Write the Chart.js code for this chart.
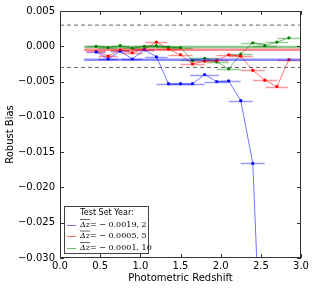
<!DOCTYPE html>
<html>
<head>
<meta charset="utf-8">
<script src="https://cdn.jsdelivr.net/npm/chart.js@4"></script>
<style>
html, body { margin: 0; padding: 0; background: #fff; }
#wrap { width: 314px; height: 290px; }
</style>
</head>
<body>
<div id="wrap"><canvas id="chart" width="314" height="290"></canvas></div>
<script>
// photometric redshift bin centres
const zBins = [0.45, 0.6, 0.75, 0.9, 1.05, 1.2, 1.35, 1.5, 1.65, 1.8, 1.95, 2.1, 2.25, 2.4, 2.55, 2.7, 2.85];
const zErr = [0.12, 0.12, 0.12, 0.13, 0.13, 0.14, 0.15, 0.15, 0.15, 0.18, 0.15, 0.15, 0.15, 0.15, 0.15, 0.14, 0.14];

// robust bias per test set year
const biasYear2 = [-0.0008, -0.0018, -0.0007, -0.0018, -0.0005, -0.0015, -0.0053, -0.0053, -0.0053, -0.0040, -0.0050, -0.0049, -0.0077, -0.0166, -0.0580];
const biasYear5 = [-0.0007, -0.0014, -0.0005, -0.0009, -0.0004, 0.0006, -0.0004, -0.0012, -0.0025, -0.0021, -0.0020, -0.0012, -0.0014, -0.0034, -0.0048, -0.0057, -0.0019];
const biasYear10 = [0.0000, -0.0002, 0.0001, -0.0003, 0.0000, 0.0001, -0.0001, -0.0002, -0.0020, -0.0017, -0.0022, -0.0032, -0.0011, 0.0005, 0.0001, 0.0006, 0.0012];

const meanBias = [-0.0019, -0.0005, -0.0001];
const years = ['2', '5', '10'];
const limit = 0.003;
const meanRange = [0.3, 3.0];

const xTicks = [0, 0.5, 1, 1.5, 2, 2.5, 3];
const yTicks = [0.005, 0, -0.005, -0.01, -0.015, -0.02, -0.025, -0.03];

const colors = ['0,0,255', '255,0,0', '0,128,0'];
const series = [biasYear2, biasYear5, biasYear10];

const fmt = v => (v < 0 ? '\u2212' : '') + Math.abs(v).toFixed(3);

const datasets = [];
[-limit, limit].forEach(l => {
    datasets.push({
        data: [{x: 0, y: l}, {x: 3, y: l}],
        borderColor: '#666',
        borderWidth: 1,
        borderDash: [4, 3],
        pointRadius: 0
    });
});
meanBias.forEach((m, i) => {
    datasets.push({
        data: [{x: meanRange[0], y: m}, {x: meanRange[1], y: m}],
        borderColor: 'rgba(' + colors[i] + ',0.45)',
        borderWidth: 2.5,
        pointRadius: 0
    });
});
series.forEach((s, i) => {
    datasets.push({
        data: s.map((v, j) => ({x: zBins[j], y: v})),
        borderColor: 'rgba(' + colors[i] + ',0.55)',
        borderWidth: 1,
        pointRadius: 1.6,
        pointBackgroundColor: 'rgb(' + colors[i] + ')',
        pointBorderWidth: 0
    });
});

const errorBars = {
    id: 'errorBars',
    beforeDatasetsDraw(chart) {
        const {ctx, chartArea: a, scales: {x, y}} = chart;
        ctx.save();
        ctx.beginPath();
        ctx.rect(a.left, a.top, a.right - a.left, a.bottom - a.top);
        ctx.clip();
        ctx.lineWidth = 1.5;
        series.forEach((s, i) => {
            ctx.strokeStyle = 'rgba(' + colors[i] + ',0.4)';
            s.forEach((v, j) => {
                const py = Math.round(y.getPixelForValue(v)) + 0.5;
                ctx.beginPath();
                ctx.moveTo(x.getPixelForValue(zBins[j] - zErr[j]), py);
                ctx.lineTo(x.getPixelForValue(zBins[j] + zErr[j]), py);
                ctx.stroke();
            });
        });
        ctx.restore();
    }
};

const frame = {
    id: 'frame',
    afterDraw(chart) {
        const {ctx, chartArea: a, scales: {x, y}} = chart;
        ctx.save();
        ctx.strokeStyle = '#333';
        ctx.lineWidth = 1;
        ctx.strokeRect(a.left + 0.5, a.top + 0.5, a.right - a.left - 1, a.bottom - a.top - 1);
        ctx.beginPath();
        xTicks.forEach(t => {
            const px = Math.round(x.getPixelForValue(t)) + 0.5;
            ctx.moveTo(px, a.bottom); ctx.lineTo(px, a.bottom - 4);
            ctx.moveTo(px, a.top); ctx.lineTo(px, a.top + 4);
        });
        yTicks.forEach(t => {
            const py = Math.round(y.getPixelForValue(t)) + 0.5;
            ctx.moveTo(a.left, py); ctx.lineTo(a.left + 4, py);
            ctx.moveTo(a.right, py); ctx.lineTo(a.right - 4, py);
        });
        ctx.stroke();

        // legend
        const bx = a.left + 4, by = a.bottom - 52, bw = 84, bh = 47;
        ctx.fillStyle = '#fff';
        ctx.fillRect(bx, by, bw, bh);
        ctx.strokeStyle = '#444';
        ctx.strokeRect(bx + 0.5, by + 0.5, bw, bh);
        ctx.fillStyle = '#000';
        ctx.font = '8px "DejaVu Sans"';
        ctx.textAlign = 'center';
        ctx.textBaseline = 'middle';
        ctx.fillText('Test Set Year:', bx + bw / 2 + 1, by + 7);
        ctx.textAlign = 'left';
        meanBias.forEach((m, i) => {
            const ly = by + 18.5 + i * 11.5;
            ctx.strokeStyle = 'rgba(' + colors[i] + ',0.55)';
            ctx.lineWidth = 1;
            ctx.beginPath();
            ctx.moveTo(bx + 3, Math.round(ly) + 0.5);
            ctx.lineTo(bx + 12, Math.round(ly) + 0.5);
            ctx.stroke();
            ctx.fillStyle = '#000';
            ctx.font = 'italic 8px "DejaVu Serif"';
            const tx = bx + 16;
            ctx.fillText('\u0394z', tx, ly);
            const w = ctx.measureText('\u0394z').width;
            ctx.strokeStyle = '#000';
            ctx.lineWidth = 0.6;
            ctx.beginPath();
            ctx.moveTo(tx, ly - 5); ctx.lineTo(tx + w, ly - 5);
            ctx.stroke();
            ctx.font = '8px "DejaVu Serif"';
            ctx.fillText('= \u2212 ' + Math.abs(m).toFixed(4) + ', ' + years[i], tx + w, ly);
        });
        ctx.restore();
    }
};

new Chart(document.getElementById('chart').getContext('2d'), {
    type: 'line',
    data: {datasets: datasets},
    options: {
        responsive: false,
        animation: false,
        layout: {padding: {top: 10, right: 13, left: 0, bottom: 0}},
        plugins: {legend: {display: false}, tooltip: {enabled: false}},
        scales: {
            x: {
                type: 'linear',
                min: 0,
                max: 3,
                afterFit: s => { s.height = 32; },
                afterBuildTicks: s => { s.ticks = xTicks.map(v => ({value: v})); },
                grid: {display: false, drawTicks: false},
                border: {display: false},
                ticks: {
                    padding: 2,
                    color: '#000',
                    font: {family: 'DejaVu Sans', size: 10},
                    maxRotation: 0,
                    callback: v => v.toFixed(1)
                },
                title: {
                    display: true,
                    text: 'Photometric Redshift',
                    color: '#000',
                    font: {family: 'DejaVu Sans', size: 10},
                    padding: {top: 0, bottom: 6}
                }
            },
            y: {
                min: -0.03,
                max: 0.005,
                afterFit: s => { s.width = 60; },
                afterBuildTicks: s => { s.ticks = yTicks.map(v => ({value: v})); },
                grid: {display: false, drawTicks: false},
                border: {display: false},
                ticks: {
                    padding: 5,
                    color: '#000',
                    font: {family: 'DejaVu Sans', size: 10},
                    callback: v => fmt(v)
                },
                title: {
                    display: true,
                    text: 'Robust Bias',
                    color: '#000',
                    font: {family: 'DejaVu Sans', size: 10},
                    padding: {top: 4, bottom: 0}
                }
            }
        }
    },
    plugins: [errorBars, frame]
});
</script>
</body>
</html>
